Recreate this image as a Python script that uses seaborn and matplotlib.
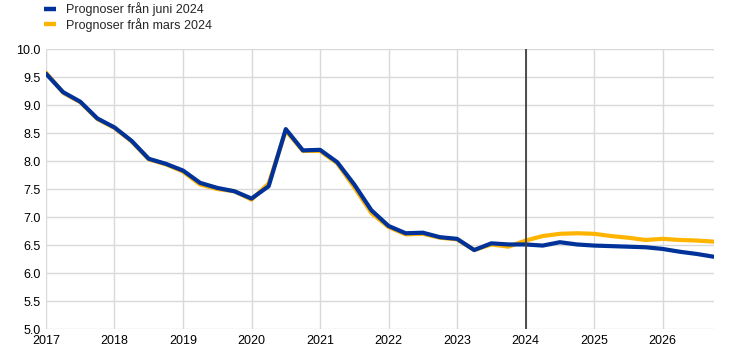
import matplotlib
matplotlib.use("Agg")
import matplotlib.pyplot as plt
import numpy as np
import pandas as pd
import seaborn as sns

# quarterly observations, 2017Q1 - 2026Q4
quarters = np.arange(2017, 2027, 0.25)

june_2024 = [9.56, 9.23, 9.06, 8.76, 8.60, 8.36, 8.04, 7.95, 7.83, 7.61,
             7.52, 7.46, 7.33, 7.55, 8.57, 8.19, 8.20, 7.98, 7.58, 7.12,
             6.84, 6.71, 6.72, 6.64, 6.61, 6.41, 6.53, 6.51, 6.51, 6.49,
             6.55, 6.51, 6.49, 6.48, 6.47, 6.46, 6.43, 6.38, 6.34, 6.29]

march_2024 = [9.58, 9.22, 9.05, 8.75, 8.59, 8.35, 8.03, 7.94, 7.81, 7.58,
              7.50, 7.46, 7.31, 7.60, 8.54, 8.18, 8.18, 7.96, 7.53, 7.07,
              6.82, 6.69, 6.70, 6.63, 6.60, 6.41, 6.51, 6.47, 6.58, 6.66,
              6.70, 6.71, 6.70, 6.66, 6.63, 6.59, 6.61, 6.59, 6.58, 6.56]

labels = ["Prognoser från juni 2024", "Prognoser från mars 2024"]
colors = ["#003299", "#ffb400"]

df = pd.concat([
    pd.DataFrame({"date": quarters, "value": june_2024, "serie": labels[0]}),
    pd.DataFrame({"date": quarters, "value": march_2024, "serie": labels[1]}),
])

sns.set_style("white")
plt.rcParams["font.family"] = ["Liberation Sans", "DejaVu Sans"]

fig = plt.figure(figsize=(7.44, 3.58), dpi=100)
ax = fig.add_axes([0.0618, 0.081, 0.8979, 0.782])

# draw march first so june sits on top
sns.lineplot(data=df[df.serie == labels[1]], x="date", y="value", color=colors[1],
             lw=3.0, ax=ax, label=labels[1], zorder=3)
sns.lineplot(data=df[df.serie == labels[0]], x="date", y="value", color=colors[0],
             lw=3.0, ax=ax, label=labels[0], zorder=4)

ax.axvline(2024, color="#404040", lw=1.3, zorder=5)

ax.set_xlim(2017, 2026.75)
ax.set_ylim(5.0, 10.0)
ax.set_xticks(range(2017, 2027))
ax.set_yticks(np.arange(5.0, 10.01, 0.5))
ax.set_yticklabels([f"{v:.1f}" for v in np.arange(5.0, 10.01, 0.5)])
ax.grid(True, color="#d9d9d9", lw=1.0, zorder=0)
for s in ax.spines.values():
    s.set_visible(False)
ax.tick_params(axis="both", length=0, labelsize=9, colors="#000000", pad=4)
ax.set_xlabel("")
ax.set_ylabel("")

handles, lbls = ax.get_legend_handles_labels()
ax.get_legend().remove()
order = [lbls.index(labels[0]), lbls.index(labels[1])]
leg = fig.legend([handles[i] for i in order], [lbls[i] for i in order],
                 loc="upper left", bbox_to_anchor=(44 / 744, 0.993), frameon=False,
                 fontsize=9, handlelength=0.95, handletextpad=0.8,
                 labelspacing=0.12, borderaxespad=0.0, borderpad=0.0)
for line in leg.get_lines():
    line.set_linewidth(3.2)
    line.set_solid_capstyle("butt")

fig.savefig("out.png", dpi=100)
